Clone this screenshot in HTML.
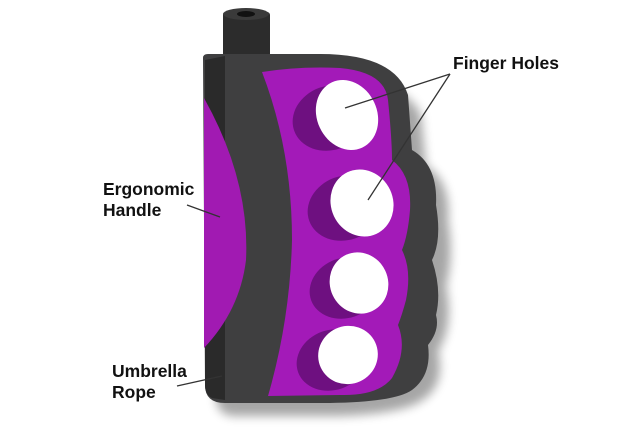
<!DOCTYPE html>
<html><head><style>
html,body{margin:0;padding:0;background:#fff;width:625px;height:436px;overflow:hidden}
text{font-family:"Liberation Sans",Arial,sans-serif;font-weight:bold;font-size:17.5px;fill:#111}
</style></head><body>
<svg width="625" height="436" viewBox="0 0 625 436" xmlns="http://www.w3.org/2000/svg">
<defs>
<filter id="sh" x="-20%" y="-20%" width="140%" height="140%"><feGaussianBlur stdDeviation="5"/></filter>
</defs>
<path d="M210 70 L300 70 Q400 70 415 110 L420 160 Q445 175 442 215 Q448 250 440 280 Q448 320 432 345 Q440 380 415 395 Q395 408 330 410 L230 410 Q210 410 210 390 Z" fill="#000" opacity="0.35" filter="url(#sh)" transform="translate(6,6)"/>
<rect x="223" y="12" width="47" height="46" rx="3" fill="#2c2c2c"/>
<ellipse cx="246" cy="14" rx="23" ry="6" fill="#3a3a3a"/>
<ellipse cx="246" cy="14" rx="9" ry="3" fill="#111"/>
<path d="M203 58 Q203 54 208 54 L320 54 Q395 54 408 95 L412 150 Q438 165 436 205 Q442 240 432 260 Q442 290 436 315 Q440 330 428 345 Q432 375 412 390 Q395 402 330 403 L225 403 Q205 403 205 385 Z" fill="#3f3f40"/>
<path d="M205 60 L225 56 L225 400 L212 398 Q205 395 205 385 Z" fill="#2a2a2a"/>
<path d="M204 98 Q250 180 246 260 Q240 310 204 348 Z" fill="#a11ab2"/>
<path d="M262 72 Q300 66 340 68 Q385 72 388 100 Q392 140 392 160 Q412 175 410 210 Q408 235 402 250 Q412 270 406 300 Q402 315 398 325 Q408 350 392 378 Q378 396 340 395 L268 396 Q290 320 292 240 Q292 150 262 72 Z" fill="#a31ab8"/>
<ellipse cx="330" cy="118" rx="38" ry="32" fill="#6e1080" transform="rotate(-20 330 118)"/>
<ellipse cx="345" cy="208" rx="38" ry="32" fill="#6e1080" transform="rotate(-20 345 208)"/>
<ellipse cx="345" cy="288" rx="36" ry="30" fill="#6e1080" transform="rotate(-20 345 288)"/>
<ellipse cx="332" cy="360" rx="36" ry="30" fill="#6e1080" transform="rotate(-20 332 360)"/>
<ellipse cx="347" cy="115" rx="30" ry="36" fill="#fff" transform="rotate(-25 347 115)"/>
<ellipse cx="362" cy="203" rx="31" ry="34" fill="#fff" transform="rotate(-25 362 203)"/>
<ellipse cx="359" cy="283" rx="29" ry="31" fill="#fff" transform="rotate(-25 359 283)"/>
<ellipse cx="348" cy="355" rx="30" ry="29" fill="#fff" transform="rotate(-25 348 355)"/>
<text x="453" y="69">Finger Holes</text>
<text x="103" y="195">Ergonomic</text>
<text x="103" y="216">Handle</text>
<text x="112" y="377">Umbrella</text>
<text x="112" y="398">Rope</text>
<g stroke="#333" stroke-width="1.3" fill="none">
<line x1="450" y1="74" x2="345" y2="108"/>
<line x1="450" y1="74" x2="368" y2="200"/>
<line x1="187" y1="205" x2="220" y2="217"/>
<line x1="177" y1="386" x2="222" y2="376"/>
</g>
</svg>
</body></html>
